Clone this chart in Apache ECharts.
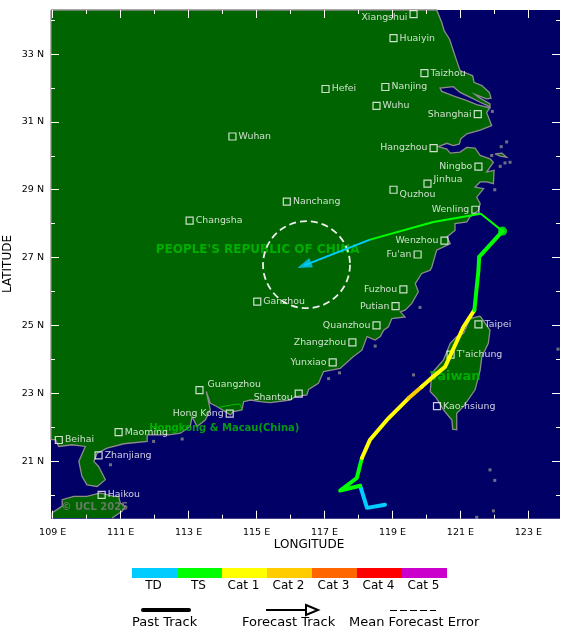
<!DOCTYPE html>
<html>
<head>
<meta charset="utf-8">
<title>Storm track</title>
<style>
  html, body { margin: 0; padding: 0; background: #fff; }
  #chart { width: 580px; height: 638px; }
</style>
<script src="https://cdn.jsdelivr.net/npm/echarts@6/dist/echarts.min.js"></script>
</head>
<body>
<div id="chart"></div>
<script>
// axis ticks
var lonMajor = [109, 111, 113, 115, 117, 119, 121, 123];
var lonMinor = [110, 112, 114, 116, 118, 120, 122];
var latMajor = [21, 23, 25, 27, 29, 31, 33];
var latMinor = [20, 22, 24, 26, 28, 30, 32, 34];

// coast outlines, [lon, lat]
var mainlandCoast = [
  [108.95, 34.3], [120.30, 34.3], [120.45, 33.93], [120.52, 33.69], [120.68, 33.44], [120.79, 33.10],
  [120.89, 32.80], [120.99, 32.51], [121.19, 32.43], [121.36, 32.36], [121.40, 32.17], [121.63, 32.07],
  [121.85, 31.87], [121.90, 31.70], [121.77, 31.68], [121.43, 31.81], [121.53, 31.73], [121.87, 31.53],
  [121.87, 31.45], [121.58, 31.58], [121.28, 31.73], [120.99, 31.87], [120.79, 32.04], [120.40, 32.00],
  [120.45, 31.90], [120.79, 31.77], [121.19, 31.63], [121.48, 31.51], [121.87, 31.41], [121.77, 31.28],
  [121.92, 30.89], [121.58, 30.76], [121.19, 30.65], [121.01, 30.50], [120.97, 30.35], [120.79, 30.30],
  [120.60, 30.37], [120.35, 30.27], [120.60, 30.20], [120.70, 30.08], [120.99, 30.11], [121.19, 30.25],
  [121.43, 30.23], [121.58, 30.01], [121.87, 29.91], [121.97, 29.81], [121.87, 29.67], [121.77, 29.52],
  [121.99, 29.57], [121.97, 29.18], [121.77, 29.23], [121.58, 29.23], [121.43, 29.08], [121.68, 29.03],
  [121.48, 28.78], [121.58, 28.59], [121.53, 28.39], [121.28, 28.20], [121.19, 28.05], [120.84, 28.00],
  [120.84, 27.80], [120.60, 27.61], [120.70, 27.41], [120.30, 27.22], [120.16, 26.73], [120.11, 26.63],
  [119.86, 26.53], [119.67, 26.23], [119.76, 25.99], [119.57, 25.65], [119.37, 25.45], [119.23, 25.40],
  [119.37, 25.25], [118.98, 25.20], [118.88, 24.96], [118.74, 24.86], [118.64, 24.67], [118.49, 24.57],
  [118.25, 24.67], [118.10, 24.27], [117.85, 24.08], [117.46, 23.73], [116.97, 23.64], [116.82, 23.29],
  [116.53, 23.11], [116.48, 22.95], [116.14, 22.90], [115.99, 22.80], [115.40, 22.72], [115.11, 22.75],
  [114.82, 22.80], [114.62, 22.75], [114.57, 22.51], [114.32, 22.46], [114.23, 22.36], [113.83, 22.61],
  [113.64, 22.70], [113.52, 23.05], [113.64, 22.51], [113.49, 22.21], [113.25, 22.02], [113.10, 22.31],
  [113.05, 22.02], [112.76, 21.82], [112.41, 21.77], [111.78, 21.77], [111.78, 21.58], [111.09, 21.51],
  [110.60, 21.38], [110.31, 21.23], [110.21, 20.99], [110.35, 20.84], [110.55, 20.45], [110.31, 20.25],
  [110.01, 20.30], [109.86, 20.55], [109.77, 20.99], [109.96, 21.43], [109.57, 21.48], [109.18, 21.43],
  [109.08, 21.63], [108.95, 21.63], [108.95, 34.3]
];
var hainanCoast = [
  [108.98, 19.32], [108.98, 19.47], [109.28, 19.67], [109.28, 19.86], [109.62, 19.96], [110.01, 19.96],
  [110.40, 20.06], [110.80, 19.96], [110.94, 19.96], [110.99, 19.76], [111.14, 19.66], [111.04, 19.52],
  [110.75, 19.32]
];
var taiwanCoast = [
  [121.58, 25.27], [121.87, 24.86], [121.82, 24.47], [121.63, 24.08], [121.58, 23.68], [121.43, 23.10],
  [121.09, 22.61], [120.89, 22.41], [120.89, 21.92], [120.77, 21.94], [120.75, 22.21], [120.50, 22.51],
  [120.30, 22.85], [120.11, 23.05], [120.16, 23.59], [120.50, 23.98], [120.70, 24.47], [120.89, 24.67],
  [121.09, 24.76], [121.28, 25.20], [121.58, 25.27]
];
var zhoushanCoast = [[122.02, 30.06], [122.22, 30.08], [122.36, 29.96], [122.17, 29.99], [122.02, 30.06]];
var hongKongBorder = [[113.88, 22.58], [114.23, 22.65], [114.50, 22.68], [114.59, 22.52]];

// small islands
var isleLon = [122.20, 122.36, 121.94, 121.92, 122.17, 122.31, 122.46, 122.01, 119.81, 117.12, 117.44, 118.49, 119.62, 123.87, 121.87, 122.01, 121.97, 121.48, 111.97, 112.81, 110.70];
var isleLat = [30.27, 30.41, 31.31, 30.01, 29.69, 29.79, 29.81, 29.00, 25.53, 23.43, 23.60, 24.39, 23.54, 24.30, 20.74, 20.43, 19.53, 19.34, 21.58, 21.65, 20.89];

// cities
var cityNames = ['Xiangshui', 'Huaiyin', 'Taizhou', 'Hefei', 'Nanjing', 'Wuhu', 'Shanghai', 'Hangzhou', 'Ningbo', 'Jinhua', 'Quzhou', 'Wenling', 'Wenzhou', "Fu'an", 'Nanchang', 'Wuhan', 'Changsha', 'Ganzhou', 'Guangzhou', 'Hong Kong', 'Shantou', 'Maoming', 'Zhanjiang', 'Beihai', 'Haikou', 'Fuzhou', 'Putian', 'Quanzhou', 'Zhangzhou', 'Yunxiao', 'Taipei', "T'aichung", 'Kao-hsiung'];
var cityLon = [119.62, 119.03, 119.94, 117.03, 118.79, 118.53, 121.51, 120.21, 121.53, 120.03, 119.03, 121.44, 120.53, 119.74, 115.89, 114.29, 113.03, 115.02, 113.32, 114.21, 116.24, 110.94, 110.35, 109.18, 110.44, 119.32, 119.09, 118.53, 117.82, 117.24, 121.53, 120.71, 120.31];
var cityLat = [34.18, 33.47, 32.44, 31.97, 32.03, 31.47, 31.23, 30.23, 29.68, 29.18, 29.00, 28.41, 27.50, 27.09, 28.65, 30.57, 28.09, 25.70, 23.09, 22.40, 22.99, 21.85, 21.17, 21.62, 20.00, 26.06, 25.57, 25.00, 24.50, 23.91, 25.03, 24.14, 22.62];
var leftLabelled = ['Xiangshui', 'Shanghai', 'Hangzhou', 'Ningbo', 'Wenling', 'Wenzhou', "Fu'an", 'Hong Kong', 'Shantou', 'Fuzhou', 'Putian', 'Quanzhou', 'Zhangzhou', 'Yunxiao'];
var labelShift = { Xiangshui: [0, 3], Jinhua: [0, -4], Quzhou: [0, 5], Guangzhou: [2, -6], Shantou: [0, 4] };

// map names
var placeNames = ["PEOPLE'S REPUBLIC OF CHINA", 'Hongkong & Macau(China)', 'Taiwan', '\u00a9 UCL 2025'];
var placeLon = [115.03, 114.05, 120.85, 110.24];
var placeLat = [27.23, 21.97, 23.48, 19.62];

// track: position and category of each fix
var trackLon = [118.78, 118.25, 118.05, 117.46, 117.95, 118.10, 118.34, 118.88, 119.47, 119.86, 120.20, 120.55, 121.09, 121.41, 121.53, 121.55, 122.24];
var trackLat = [19.71, 19.62, 20.27, 20.13, 20.50, 21.09, 21.63, 22.26, 22.85, 23.19, 23.49, 23.78, 24.96, 25.45, 26.63, 27.02, 27.78];
var trackCat = [0, 0, 1, 1, 1, 2, 2, 2, 3, 2, 2, 2, 2, 1, 1, 1, 1];
var forecastLon = [122.24, 121.60, 120.20, 118.34, 116.40];
var forecastLat = [27.78, 28.29, 28.05, 27.53, 26.77];
var forecastCat = [1, 1, 1, 0, 0];
var errorCentre = [116.47, 26.79];
var errorRadius = 1.28;

// legend
var catNames = ['TD', 'TS', 'Cat 1', 'Cat 2', 'Cat 3', 'Cat 4', 'Cat 5'];
var catColors = ['#00ccff', '#00ff00', '#ffff00', '#ffcc00', '#ff6600', '#ff0000', '#cc00cc'];

var FONT = '"DejaVu Sans"';
var LAND = '#006400', SEA = '#000066', COAST = '#8c8c8c', PLACE = '#00c000';
var lonRange = [108.95, 123.93], latRange = [19.3, 34.3];

function tickAxis(range, position, ticks, length, extra) {
  var axis = {
    type: 'value', min: range[0], max: range[1], position: position, z: 10,
    splitLine: { show: false }, axisLine: { show: false },
    axisTick: { show: true, inside: true, length: length, customValues: ticks, lineStyle: { color: '#fff', width: 1 } },
    axisLabel: { show: false }
  };
  return Object.assign(axis, extra || {});
}

// consecutive fixes of one category become one line, joined to the next fix
function trackRuns(lon, lat, cat) {
  var runs = [], run = null;
  for (var i = 0; i < lon.length; i++) {
    if (!run || run.cat !== cat[i]) {
      if (run) run.points.push([lon[i], lat[i]]);
      run = { cat: cat[i], points: [] };
      runs.push(run);
    }
    run.points.push([lon[i], lat[i]]);
  }
  return runs;
}

var landParts = [mainlandCoast, hainanCoast, taiwanCoast, zhoushanCoast];

var series = [{
  type: 'custom', z: 1, silent: true, clip: false,
  data: landParts.map(function (p, i) { return [i]; }),
  renderItem: function (params, api) {
    var pts = landParts[params.dataIndex].map(function (p) { return api.coord(p); });
    return { type: 'group', children: [
      { type: 'polygon', shape: { points: pts }, style: { fill: LAND } },
      { type: 'polyline', shape: { points: pts }, style: { fill: 'none', stroke: COAST, lineWidth: 1.3 } }
    ] };
  }
}, {
  type: 'line', z: 2, silent: true, showSymbol: false,
  data: hongKongBorder,
  lineStyle: { color: '#00c000', width: 1 }
}, {
  type: 'scatter', z: 2, silent: true, symbol: 'rect', symbolSize: 3,
  data: isleLon.map(function (v, i) { return [v, isleLat[i]]; }),
  itemStyle: { color: COAST }
}, {
  type: 'scatter', z: 3, silent: true, symbolSize: 0,
  data: placeNames.map(function (name, i) {
    var copy = i === 3;
    return {
      value: [placeLon[i], placeLat[i]],
      label: {
        show: true, position: 'inside', formatter: name, fontFamily: FONT, fontWeight: 'bold',
        fontSize: i === 0 ? 12 : (i === 2 ? 13 : 10), color: copy ? '#808080' : PLACE
      }
    };
  })
}, {
  type: 'scatter', z: 4, silent: true, symbol: 'rect', symbolSize: 7,
  itemStyle: { color: 'rgba(0,0,0,0)', borderColor: '#fff', borderWidth: 1.2 },
  data: cityNames.map(function (name, i) {
    return {
      value: [cityLon[i], cityLat[i]],
      label: {
        show: true, formatter: name, color: '#fff', fontFamily: FONT, fontSize: 9.4, distance: 2,
        position: leftLabelled.indexOf(name) >= 0 ? 'left' : 'right',
        offset: labelShift[name] || [0, 0]
      }
    };
  })
}, {
  type: 'custom', z: 5, silent: true, clip: false,
  data: [errorCentre],
  renderItem: function (params, api) {
    var c = api.coord(errorCentre);
    return {
      type: 'circle', shape: { cx: c[0], cy: c[1], r: api.size([errorRadius, errorRadius])[0] },
      style: { fill: 'none', stroke: '#eeeeee', lineWidth: 1.8, lineDash: [7, 4] }
    };
  }
}];

trackRuns(forecastLon, forecastLat, forecastCat).forEach(function (run) {
  series.push({
    type: 'line', z: 6, silent: true, showSymbol: false, data: run.points,
    lineStyle: { color: catColors[run.cat], width: 2 }
  });
});
trackRuns(trackLon, trackLat, trackCat).forEach(function (run) {
  series.push({
    type: 'line', z: 7, silent: true, showSymbol: false, data: run.points,
    lineStyle: { color: catColors[run.cat], width: 4, cap: 'round', join: 'round' }
  });
});

// arrow head of the forecast, pointed along its last leg
var fLast = forecastLon.length - 1;
var arrowAngle = Math.atan2(
  (forecastLat[fLast] - forecastLat[fLast - 1]),
  (forecastLon[fLast] - forecastLon[fLast - 1])
) * 180 / Math.PI - 90;
series.push({
  type: 'scatter', z: 7, silent: true, symbol: 'triangle', symbolSize: [10, 15], symbolRotate: arrowAngle,
  data: [[forecastLon[fLast], forecastLat[fLast]]],
  itemStyle: { color: catColors[0] }
});
// current position
series.push({
  type: 'scatter', z: 8, silent: true, symbol: 'circle', symbolSize: 9,
  data: [[trackLon[trackLon.length - 1], trackLat[trackLat.length - 1]]],
  itemStyle: { color: catColors[1] }
});

// axis titles, colour key and track key around the map
var graphics = [
  { type: 'text', x: 309, y: 545, style: { text: 'LONGITUDE', fill: '#000', font: '12px ' + FONT, textAlign: 'center', textVerticalAlign: 'middle' } },
  { type: 'text', x: 8, y: 264, rotation: Math.PI / 2, style: { text: 'LATITUDE', fill: '#000', font: '12px ' + FONT, textAlign: 'center', textVerticalAlign: 'middle' } }
];
catNames.forEach(function (name, i) {
  graphics.push({ type: 'rect', left: 132 + i * 45, top: 568, shape: { width: 45, height: 10 }, style: { fill: catColors[i] } });
  graphics.push({ type: 'text', x: 153.5 + i * 45, y: 586, style: { text: name, fill: '#000', font: '12px ' + FONT, textAlign: 'center', textVerticalAlign: 'middle' } });
});
function keyText(text, x) {
  return { type: 'text', x: x, y: 622.5, style: { text: text, fill: '#000', font: '13px ' + FONT, textAlign: 'left', textVerticalAlign: 'middle' } };
}
graphics.push(
  { type: 'line', shape: { x1: 143, y1: 610, x2: 189, y2: 610 }, style: { stroke: '#000', lineWidth: 4, lineCap: 'round' } },
  keyText('Past Track', 132),
  { type: 'line', shape: { x1: 266, y1: 610, x2: 306, y2: 610 }, style: { stroke: '#000', lineWidth: 2 } },
  { type: 'polygon', shape: { points: [[306, 605], [318, 610], [306, 615]] }, style: { fill: '#fff', stroke: '#000', lineWidth: 2 } },
  keyText('Forecast Track', 242),
  { type: 'line', shape: { x1: 390, y1: 610.5, x2: 436, y2: 610.5 }, style: { stroke: '#000', lineWidth: 1, lineDash: [7, 3] } },
  keyText('Mean Forecast Error', 349)
);

var chart = echarts.init(document.getElementById('chart'), null, { renderer: 'canvas' });
chart.setOption({
  animation: false,
  backgroundColor: '#fff',
  textStyle: { fontFamily: FONT },
  grid: { show: true, left: 51, top: 10, width: 509, height: 508.7, backgroundColor: SEA, borderWidth: 0, outerBoundsMode: 'none' },
  xAxis: [
    tickAxis(lonRange, 'bottom', lonMajor, 8, {
      axisLabel: {
        show: true, customValues: lonMajor, color: '#000', fontFamily: FONT, fontSize: 9.5, margin: 9,
        formatter: function (v) { return v + ' E'; }
      }
    }),
    tickAxis(lonRange, 'bottom', lonMinor, 4),
    tickAxis(lonRange, 'top', lonMajor, 8),
    tickAxis(lonRange, 'top', lonMinor, 4)
  ],
  yAxis: [
    tickAxis(latRange, 'left', latMajor, 8, {
      axisLabel: {
        show: true, customValues: latMajor, color: '#000', fontFamily: FONT, fontSize: 9.5, margin: 7,
        formatter: function (v) { return v + ' N'; }
      }
    }),
    tickAxis(latRange, 'left', latMinor, 4),
    tickAxis(latRange, 'right', latMajor, 8),
    tickAxis(latRange, 'right', latMinor, 4)
  ],
  series: series,
  graphic: graphics
});
</script>
</body>
</html>
